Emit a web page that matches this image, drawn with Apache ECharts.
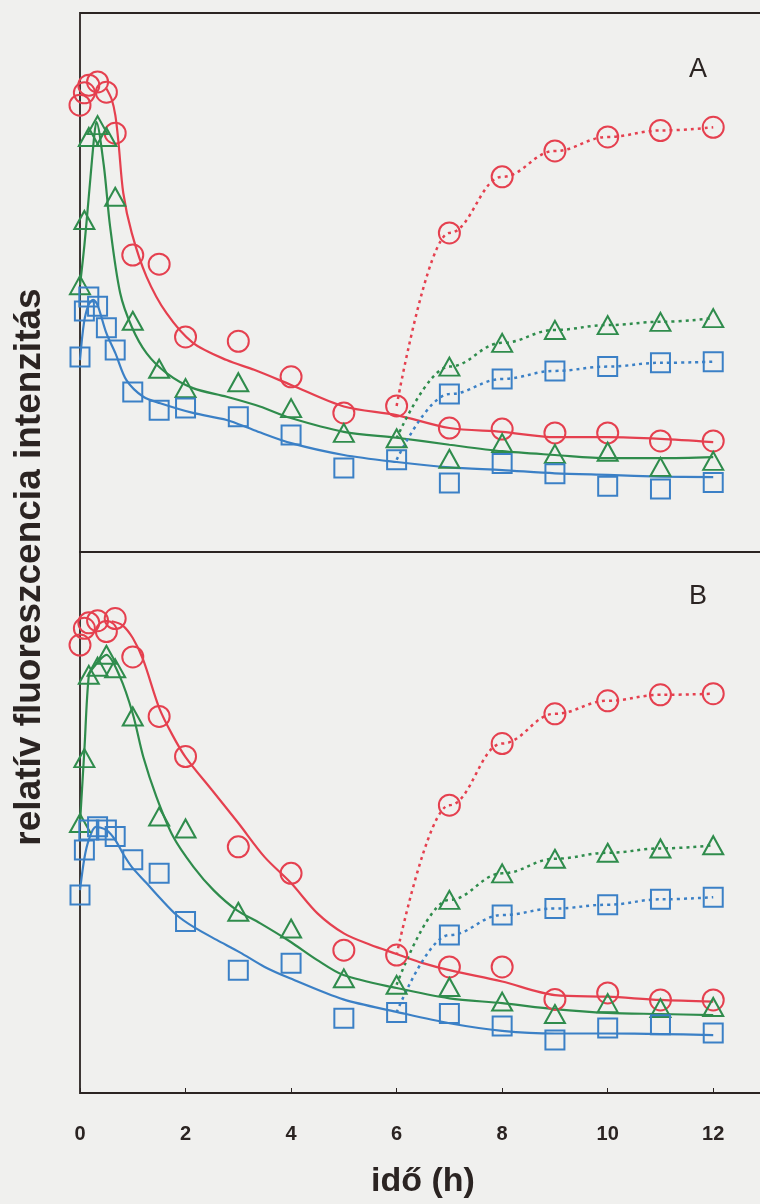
<!DOCTYPE html>
<html>
<head>
<meta charset="utf-8">
<script src="https://cdn.jsdelivr.net/npm/echarts@6/dist/echarts.min.js"></script>
<style>
  html, body { margin: 0; padding: 0; background: #f0f0ee; }
  #chart { width: 760px; height: 1204px; }
</style>
</head>
<body>
<div id="chart"></div>
<script>
// Sampling times (h) of the measured points
const times = [0, 0.083, 0.167, 0.333, 0.5, 0.667, 1, 1.5, 2, 3, 4, 5, 6, 7, 8, 9, 10, 11, 12];
// Times of the recovery branch (starts from the 6 h point)
const recoveryTimes = [7, 8, 9, 10, 11, 12];
const xTickLabels = [0, 2, 4, 6, 8, 10, 12];

// ---- Panel A: measured values (relative units) ----
const redA   = [82.9, 85.2, 86.6, 87.2, 85.3, 77.7, 55.1, 53.4, 39.9, 39.1, 32.5, 25.8, 27.1, 23.0, 22.8, 22.1, 22.1, 20.6, 20.6];
const greenA = [49.5, 61.6, 77.0, 79.2, 77.0, 65.9, 42.9, 34.0, 30.4, 31.5, 26.7, 22.1, 21.1, 17.3, 20.2, 18.2, 18.6, 15.8, 16.9];
const blueA  = [36.2, 44.7, 47.3, 45.6, 41.6, 37.5, 29.7, 26.3, 26.7, 25.1, 21.7, 15.6, 17.1, 12.8, 16.4, 14.5, 12.2, 11.7, 12.9];
// Panel A recovery branch
const redRecA   = [59.2, 69.6, 74.4, 77.0, 78.2, 78.8];
const greenRecA = [34.4, 38.8, 41.2, 42.1, 42.7, 43.4];
const blueRecA  = [29.3, 32.1, 33.6, 34.4, 35.1, 35.3];
// Panel A fitted curves [t, value]
const redFitA = [[0.5, 86.0], [0.6, 84.0], [0.67, 81.0], [0.73, 75.9], [0.82, 66.6], [0.98, 59.2], [1.26, 51.1],
  [1.64, 44.3], [2.14, 38.8], [2.78, 35.6], [3.3, 33.8], [4, 31.0], [5, 27.0], [6, 25.4], [7, 23.0], [8, 22.3],
  [9, 21.3], [10, 21.3], [11, 21.0], [12, 20.4]];
const greenFitA = [[0, 49.5], [0.083, 56.9], [0.167, 66.0], [0.27, 77.2], [0.31, 79.8], [0.45, 71.8], [0.57, 60.4],
  [0.76, 48.1], [0.98, 41.8], [1.26, 36.9], [1.64, 33.2], [2.14, 30.4], [2.78, 28.8], [3.41, 27.0], [3.98, 24.9],
  [5, 22.3], [6, 21.2], [7, 19.9], [8, 18.7], [9, 18.0], [10, 17.4], [11, 17.4], [12, 17.6]];
const blueFitA = [[0, 35.6], [0.075, 42.5], [0.16, 45.8], [0.25, 46.8], [0.333, 45.8], [0.5, 40.6], [0.67, 36.9],
  [0.88, 31.9], [1.2, 28.8], [1.52, 27.6], [2.14, 25.8], [2.78, 24.5], [3.3, 22.6], [4, 20.2], [5, 18.0],
  [6, 16.7], [7, 15.7], [8, 15.2], [9, 14.6], [10, 14.3], [11, 14.0], [12, 13.9]];

// ---- Panel B: measured values (relative units) ----
const redB   = [82.8, 85.9, 86.9, 87.3, 85.3, 87.7, 80.6, 69.6, 62.2, 45.5, 40.6, 26.4, 25.5, 23.3, 23.3, 17.3, 18.5, 17.2, 17.2];
const greenB = [49.9, 61.9, 77.3, 78.8, 81.0, 78.5, 69.6, 51.1, 48.9, 33.5, 30.4, 21.2, 20.0, 19.6, 16.9, 14.6, 16.6, 15.7, 15.9];
const blueB  = [36.6, 44.9, 48.6, 49.2, 48.6, 47.4, 43.1, 40.6, 31.7, 22.7, 24.0, 13.8, 14.9, 14.7, 12.4, 9.8, 12.0, 12.6, 11.1];
// Panel B recovery branch
const redRecB   = [53.2, 64.6, 70.1, 72.5, 73.6, 73.8];
const greenRecB = [35.7, 40.6, 43.3, 44.4, 45.2, 45.8];
const blueRecB  = [29.2, 32.9, 34.1, 34.8, 35.8, 36.2];
// Panel B fitted curves [t, value]
const redFitB = [[0.6, 87.2], [0.8, 86.5], [1.0, 84.1], [1.2, 80.0], [1.5, 71.2], [1.75, 66.2], [2, 62.1],
  [2.5, 56.0], [3, 49.9], [3.5, 43.6], [4, 38.8], [4.5, 33.2], [5, 29.5], [5.5, 27.4], [6, 25.7], [6.5, 24.0],
  [7, 22.7], [8, 20.6], [9, 18.1], [10, 17.8], [11, 17.2], [12, 16.9]];
const greenFitB = [[0, 49.9], [0.083, 63.4], [0.167, 77.1], [0.25, 78.6], [0.5, 81.0], [0.75, 77.1], [1.0, 70.1],
  [1.2, 62.1], [1.45, 54.7], [1.77, 47.3], [2.15, 41.8], [2.53, 37.5], [2.97, 33.8], [3.41, 31.4], [3.98, 28.0],
  [4.49, 24.6], [4.99, 21.8], [6, 19.4], [7, 17.5], [8, 16.6], [9, 15.5], [10, 14.8], [11, 14.6], [12, 14.4]];
const blueFitB = [[0, 37.5], [0.083, 43.4], [0.167, 46.8], [0.3, 49.2], [0.5, 48.6], [0.667, 46.8], [0.83, 44.0],
  [0.98, 41.8], [1.26, 38.8], [1.52, 36.0], [1.83, 32.9], [2.15, 30.7], [2.59, 28.3], [3.03, 26.0], [3.5, 23.3],
  [3.98, 21.2], [4.99, 17.3], [6, 15.0], [7, 12.9], [8, 11.5], [9, 11.0], [10, 11.0], [11, 10.9], [12, 10.7]];

const RED = '#e5404f', GREEN = '#2f8c4c', BLUE = '#3b80c6', INK = '#2b2422';
const FONT = '"Liberation Sans", Arial, sans-serif';

const pairs = (ts, vs) => ts.map((t, i) => [t, vs[i]]);

const markerStyle = (color) => ({ color: 'rgba(0,0,0,0)', borderColor: color, borderWidth: 2, opacity: 1 });
const symbolFor = { circle: ['circle', 21], triangle: ['triangle', [20, 18]], rect: ['rect', 19] };

function observed(grid, values, color, shape) {
  return {
    type: 'scatter', xAxisIndex: grid, yAxisIndex: grid, z: 5,
    symbol: symbolFor[shape][0], symbolSize: symbolFor[shape][1],
    itemStyle: markerStyle(color), data: pairs(times, values), silent: true
  };
}
function fitted(grid, pts, color) {
  return {
    type: 'line', xAxisIndex: grid, yAxisIndex: grid, z: 3, showSymbol: false, symbol: 'none',
    smooth: 0.3, lineStyle: { color: color, width: 2.2 }, data: pts, silent: true
  };
}
function recovery(grid, startValue, values, color, shape) {
  const data = [{ value: [6, startValue], symbol: 'none' }].concat(pairs(recoveryTimes, values));
  return {
    type: 'line', xAxisIndex: grid, yAxisIndex: grid, z: 4,
    symbol: symbolFor[shape][0], symbolSize: symbolFor[shape][1], showSymbol: true,
    itemStyle: markerStyle(color), smooth: 0.4, smoothMonotone: 'x',
    lineStyle: { color: color, width: 2.5, type: [3, 4] }, data: data, silent: true
  };
}

const i6 = times.indexOf(6);

const option = {
  backgroundColor: '#f0f0ee',
  animation: false,
  grid: [
    { left: 80, top: 13, width: 686, height: 539, outerBoundsMode: 'none', show: true,
      borderColor: INK, borderWidth: 1.8, backgroundColor: 'transparent' },
    { left: 80, top: 552, width: 686, height: 541, outerBoundsMode: 'none', show: true,
      borderColor: INK, borderWidth: 1.8, backgroundColor: 'transparent' }
  ],
  xAxis: [
    { type: 'value', gridIndex: 0, min: 0, max: 13, interval: 2,
      axisLine: { show: false }, axisTick: { show: false }, axisLabel: { show: false }, splitLine: { show: false } },
    { type: 'value', gridIndex: 1, min: 0, max: 13, interval: 2,
      axisLine: { show: false },
      axisTick: { show: true, inside: true, length: 5, lineStyle: { color: INK, width: 1 } },
      axisLabel: { show: true, margin: 31, fontSize: 20, fontWeight: 'bold', color: INK, fontFamily: FONT,
        formatter: (v) => (xTickLabels.indexOf(v) >= 0 ? String(v) : '') },
      splitLine: { show: false },
      name: 'idő (h)', nameLocation: 'middle', nameGap: 72,
      nameTextStyle: { fontSize: 34, fontWeight: 'bold', color: INK, fontFamily: FONT } }
  ],
  yAxis: [
    { type: 'value', gridIndex: 0, min: 0, max: 100, show: false },
    { type: 'value', gridIndex: 1, min: 0, max: 100, show: false }
  ],
  graphic: [
    { type: 'text', left: 689, top: 56, style: { text: 'A', fontSize: 27, fill: INK, fontFamily: FONT } },
    { type: 'text', left: 689, top: 583, style: { text: 'B', fontSize: 27, fill: INK, fontFamily: FONT } },
    { type: 'text', x: 30, y: 567, rotation: Math.PI / 2,
      style: { text: 'relatív fluoreszcencia intenzitás', fontSize: 37, fontWeight: 'bold', fill: INK,
        fontFamily: FONT, align: 'center', verticalAlign: 'middle' } }
  ],
  series: [
    fitted(0, redFitA, RED), fitted(0, greenFitA, GREEN), fitted(0, blueFitA, BLUE),
    recovery(0, redA[i6], redRecA, RED, 'circle'),
    recovery(0, greenA[i6], greenRecA, GREEN, 'triangle'),
    recovery(0, blueA[i6], blueRecA, BLUE, 'rect'),
    observed(0, redA, RED, 'circle'), observed(0, greenA, GREEN, 'triangle'), observed(0, blueA, BLUE, 'rect'),

    fitted(1, redFitB, RED), fitted(1, greenFitB, GREEN), fitted(1, blueFitB, BLUE),
    recovery(1, redB[i6], redRecB, RED, 'circle'),
    recovery(1, greenB[i6], greenRecB, GREEN, 'triangle'),
    recovery(1, blueB[i6], blueRecB, BLUE, 'rect'),
    observed(1, redB, RED, 'circle'), observed(1, greenB, GREEN, 'triangle'), observed(1, blueB, BLUE, 'rect')
  ]
};

const chart = echarts.init(document.getElementById('chart'), null, { renderer: 'canvas' });
chart.setOption(option);
</script>
</body>
</html>
